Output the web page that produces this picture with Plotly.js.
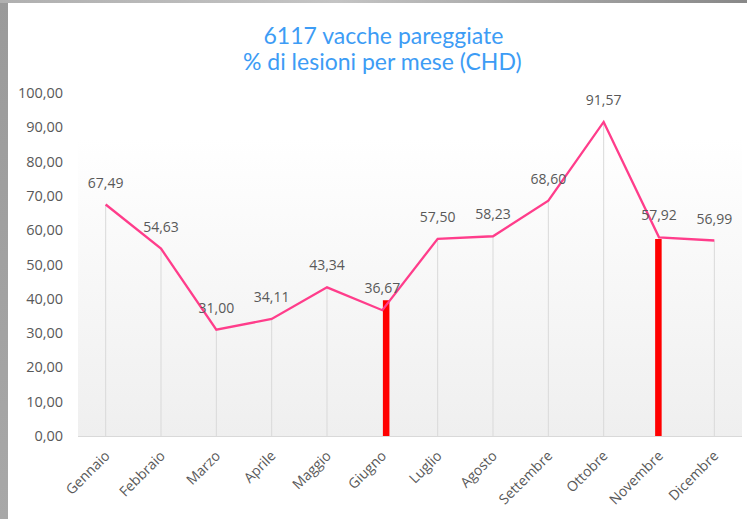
<!DOCTYPE html>
<html>
<head>
<meta charset="utf-8">
<script src="https://cdn.plot.ly/plotly-3.0.1.min.js"></script>
<style>
  html, body { margin: 0; padding: 0; background: #ffffff; }
  #frame { position: relative; width: 747px; height: 519px; overflow: hidden; background: #ffffff; }
  #leftstrip { position: absolute; left: 0; top: 0; width: 8px; height: 519px; background: linear-gradient(to bottom, #9a9a9a, #a8a8a8); }
  #topstrip { position: absolute; left: 0; top: 0; width: 747px; height: 3px; background: linear-gradient(to right, #b0b0b0, #c4c4c4 45%, #888888); }
  #chart { position: absolute; left: 8px; top: 3px; width: 739px; height: 516px; }
</style>
</head>
<body>
<div id="frame">
  <div id="leftstrip"></div>
  <div id="topstrip"></div>
  <div id="chart"></div>
</div>
<script>
const titleLine1 = "6117 vacche pareggiate";
const titleLine2 = "% di lesioni per mese (CHD)";
const months = ["Gennaio", "Febbraio", "Marzo", "Aprile", "Maggio", "Giugno", "Luglio", "Agosto", "Settembre", "Ottobre", "Novembre", "Dicembre"];
const lesionPct = [67.49, 54.63, 31.00, 34.11, 43.34, 36.67, 57.50, 58.23, 68.60, 91.57, 57.92, 56.99];
const markerBars = [null, null, null, null, null, 39.6, null, null, null, null, 57.4, null];
const barOffsets = [0, 0, 0, 0, 0, 0.01, 0, 0, 0, 0, -0.07, 0];
const yTicks = [0, 10, 20, 30, 40, 50, 60, 70, 80, 90, 100];

const fmt = v => v.toFixed(2).replace('.', ',');

const gradSvg = '<svg xmlns="http://www.w3.org/2000/svg" width="10" height="100" preserveAspectRatio="none">' +
  '<defs><linearGradient id="g" x1="0" y1="0" x2="0" y2="1">' +
  '<stop offset="0" stop-color="#ffffff"/><stop offset="0.13" stop-color="#ffffff"/>' +
  '<stop offset="1" stop-color="#efefef"/></linearGradient></defs>' +
  '<rect x="0" y="0" width="10" height="100" fill="url(#g)"/></svg>';
const gradUri = 'data:image/svg+xml;base64,' + btoa(gradSvg);

const titleFont = { family: 'Lato, sans-serif', size: 23, color: '#3d9cf5' };

const lineTrace = {
  type: 'scatter',
  mode: 'lines+markers+text',
  x: months,
  y: lesionPct,
  text: lesionPct.map(fmt),
  textposition: 'top center',
  textfont: { family: 'Open Sans, sans-serif', size: 14, color: '#595959' },
  line: { color: '#ff3d8b', width: 2.3 },
  marker: { size: 20, color: 'rgba(0,0,0,0)', line: { width: 0 } },
  error_y: {
    type: 'data', symmetric: false,
    array: lesionPct.map(() => 0),
    arrayminus: lesionPct.map((v, i) => markerBars[i] == null ? v : 0),
    color: '#d9d9d9', thickness: 1, width: 0
  },
  cliponaxis: false,
  hoverinfo: 'x+y'
};

const barTrace = {
  type: 'bar',
  x: months,
  y: markerBars,
  width: 0.118,
  offset: barOffsets,
  marker: { color: '#ff0000', line: { width: 0 } },
  hoverinfo: 'x+y'
};

const layout = {
  width: 739,
  height: 516,
  margin: { l: 70, r: 5, t: 90, b: 83, pad: 0 },
  paper_bgcolor: 'rgba(0,0,0,0)',
  plot_bgcolor: 'rgba(0,0,0,0)',
  showlegend: false,
  separators: ',.',
  title: {
    text: titleLine1,
    font: titleFont,
    x: 0.508, xanchor: 'center',
    yref: 'container',
    y: 1 - 33 / 516, yanchor: 'middle'
  },
  annotations: [{
    text: titleLine2,
    font: titleFont,
    xref: 'paper', yref: 'paper',
    x: 0.459, xanchor: 'center',
    y: 1 + (90 - 58) / 343, yanchor: 'middle',
    showarrow: false
  }],
  xaxis: {
    type: 'category',
    range: [-0.5, 11.5],
    automargin: false,
    tickangle: -45,
    tickfont: { family: 'Open Sans, sans-serif', size: 14, color: '#595959' },
    showgrid: false,
    showline: true,
    linecolor: '#d9d9d9',
    linewidth: 1,
    ticks: 'outside', ticklen: 5, tickcolor: 'rgba(0,0,0,0)',
    zeroline: false,
    fixedrange: true
  },
  yaxis: {
    range: [0, 100],
    automargin: false,
    tickvals: yTicks,
    tickformat: '.2f',
    tickfont: { family: 'Open Sans, sans-serif', size: 14.5, color: '#595959' },
    showgrid: false,
    zeroline: false,
    showline: false,
    ticks: 'outside', ticklen: 11, tickcolor: 'rgba(0,0,0,0)',
    fixedrange: true
  },
  images: [{
    source: gradUri,
    xref: 'paper', yref: 'paper',
    x: 0, y: 1, sizex: 1, sizey: 1,
    xanchor: 'left', yanchor: 'top',
    sizing: 'stretch', layer: 'below'
  }]
};

Plotly.newPlot('chart', [barTrace, lineTrace], layout, { displayModeBar: false, staticPlot: true });
</script>
</body>
</html>
